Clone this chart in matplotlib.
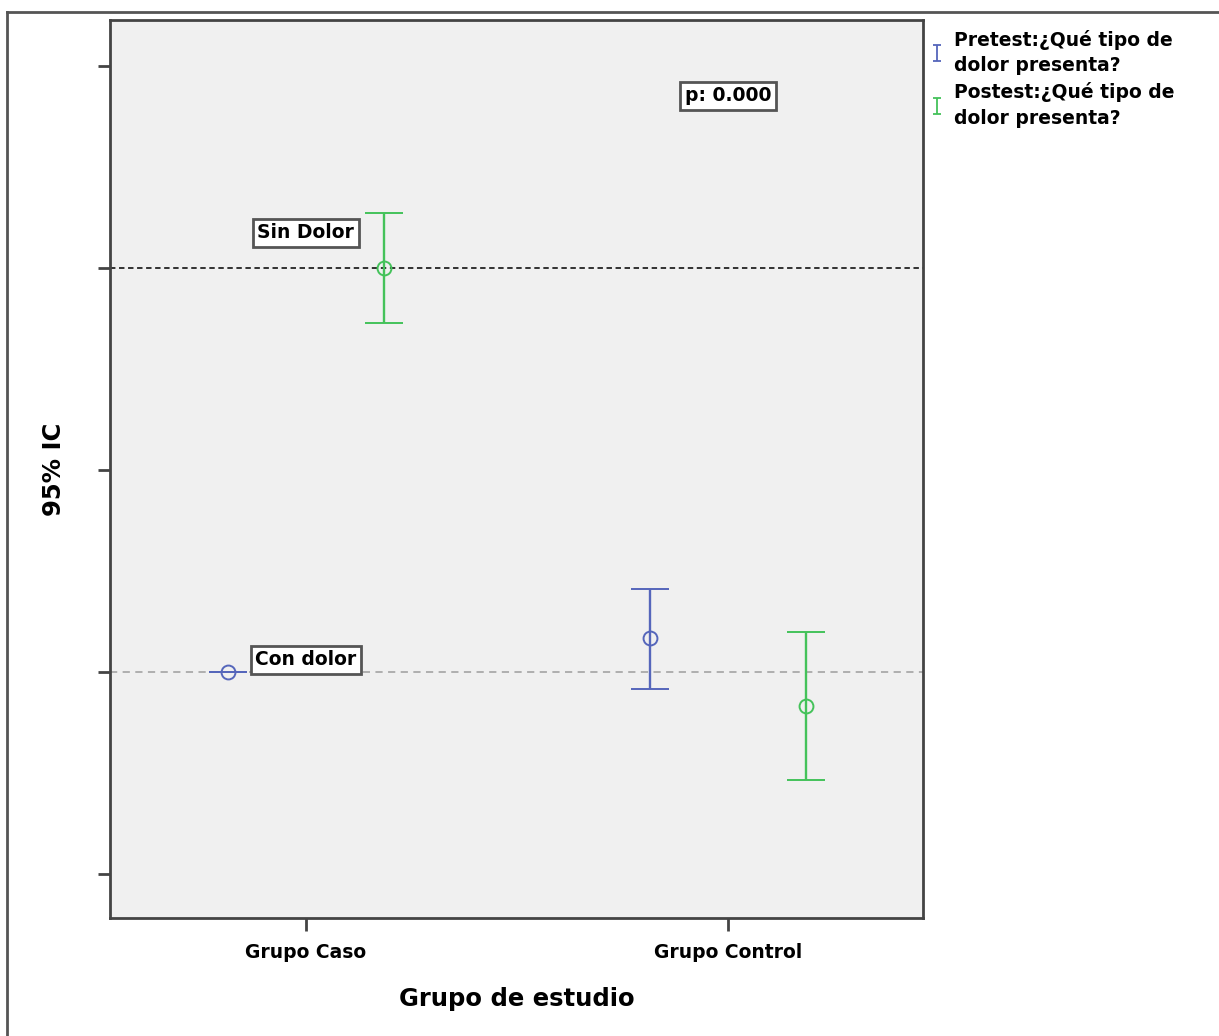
import numpy as np
import matplotlib
matplotlib.use("Agg")
import matplotlib.pyplot as plt
from matplotlib.path import Path
from matplotlib.lines import Line2D

# ---- data ----
groups = ["Grupo Caso", "Grupo Control"]
pre_mean = [1.000, 1.084]
pre_low = [1.000, 0.958]
pre_high = [1.000, 1.205]
post_mean = [2.000, 0.916]
post_low = [1.864, 0.733]
post_high = [2.136, 1.099]
series_labels = ["Pretest:¿Qué tipo de\ndolor presenta?", "Postest:¿Qué tipo de\ndolor presenta?"]
yticks = [0.5, 1.0, 1.5, 2.0, 2.5]
ref_sin = 2.0
ref_con = 1.0

blue = "#5566bb"
green = "#44c25a"

plt.rcParams['font.family'] = ['DejaVu Sans']

fig = plt.figure(figsize=(12.19, 10.36), dpi=100)
ax = fig.add_axes([110/1219, 1-918/1036, (923-110)/1219, (918-20)/1036])
ax.set_facecolor("#f0f0f0")

x = np.arange(len(groups))
off = 0.185

def yerr(m, lo, hi):
    m, lo, hi = map(np.asarray, (m, lo, hi))
    return np.vstack([m - lo, hi - m])

ax.axhline(ref_sin, color="#222222", lw=1.3, ls=(0, (3, 2)), zorder=1)
ax.axhline(ref_con, color="#aaaaaa", lw=1.3, ls=(0, (4, 3)), zorder=1)

ax.errorbar(x - off, pre_mean, yerr=yerr(pre_mean, pre_low, pre_high), fmt='o',
            mfc='none', mec=blue, color=blue, ms=10, mew=1.4, elinewidth=1.7,
            capsize=13.5, capthick=1.9, zorder=3)
ax.errorbar(x + off, post_mean, yerr=yerr(post_mean, post_low, post_high), fmt='o',
            mfc='none', mec=green, color=green, ms=10, mew=1.4, elinewidth=1.7,
            capsize=13.5, capthick=1.9, zorder=3)

ax.set_xlim(-0.464, 1.462)
ax.set_ylim(0.391, 2.614)
ax.set_xticks(x)
ax.set_xticklabels(groups, fontsize=13.5, fontweight='bold')
ax.set_yticks(yticks)
ax.set_yticklabels([])
ax.tick_params(axis='both', direction='out', length=9, width=2, color="#444444", pad=9)
for s in ax.spines.values():
    s.set_color("#444444")
    s.set_linewidth(2)

ax.set_ylabel("95% IC", fontsize=17.5, fontweight='bold', labelpad=14)
ax.set_xlabel("Grupo de estudio", fontsize=17.5, fontweight='bold', labelpad=18)

box = dict(boxstyle='square,pad=0.25', fc='white', ec='#555555', lw=2)
ax.text(x[0], 2.087, "Sin Dolor", ha='center', va='center', fontsize=13.5, fontweight='bold', bbox=box, zorder=4)
ax.text(x[0], 1.03, "Con dolor", ha='center', va='center', fontsize=13.5, fontweight='bold', bbox=box, zorder=4)
ax.text(x[1], 2.426, "p: 0.000", ha='center', va='center', fontsize=13.5, fontweight='bold', bbox=box, zorder=4)

# legend with I-shaped markers
ibar = Path([(-0.5, 1), (0.5, 1), (0, 1), (0, -1), (-0.5, -1), (0.5, -1)],
            [Path.MOVETO, Path.LINETO, Path.MOVETO, Path.LINETO, Path.MOVETO, Path.LINETO])
handles = [Line2D([], [], marker=ibar, ls='None', color=blue, mec=blue, ms=11, mew=1.3),
           Line2D([], [], marker=ibar, ls='None', color=green, mec=green, ms=11, mew=1.3)]
leg = fig.legend(handles, series_labels, loc='upper left', bbox_to_anchor=(922/1219, 1-22/1036),
                 frameon=False, prop=dict(weight='bold', size=13.5), handlelength=0.8,
                 handletextpad=0.5, labelspacing=0.35, borderaxespad=0)
for t in leg.get_texts():
    t.set_linespacing(1.45)

# figure border (left and top)
fig.add_artist(Line2D([7/1219, 7/1219], [0, 1-12/1036], transform=fig.transFigure, color="#555555", lw=2))
fig.add_artist(Line2D([7/1219, 1], [1-12/1036, 1-12/1036], transform=fig.transFigure, color="#555555", lw=2))

fig.savefig("out.png", dpi=100)
